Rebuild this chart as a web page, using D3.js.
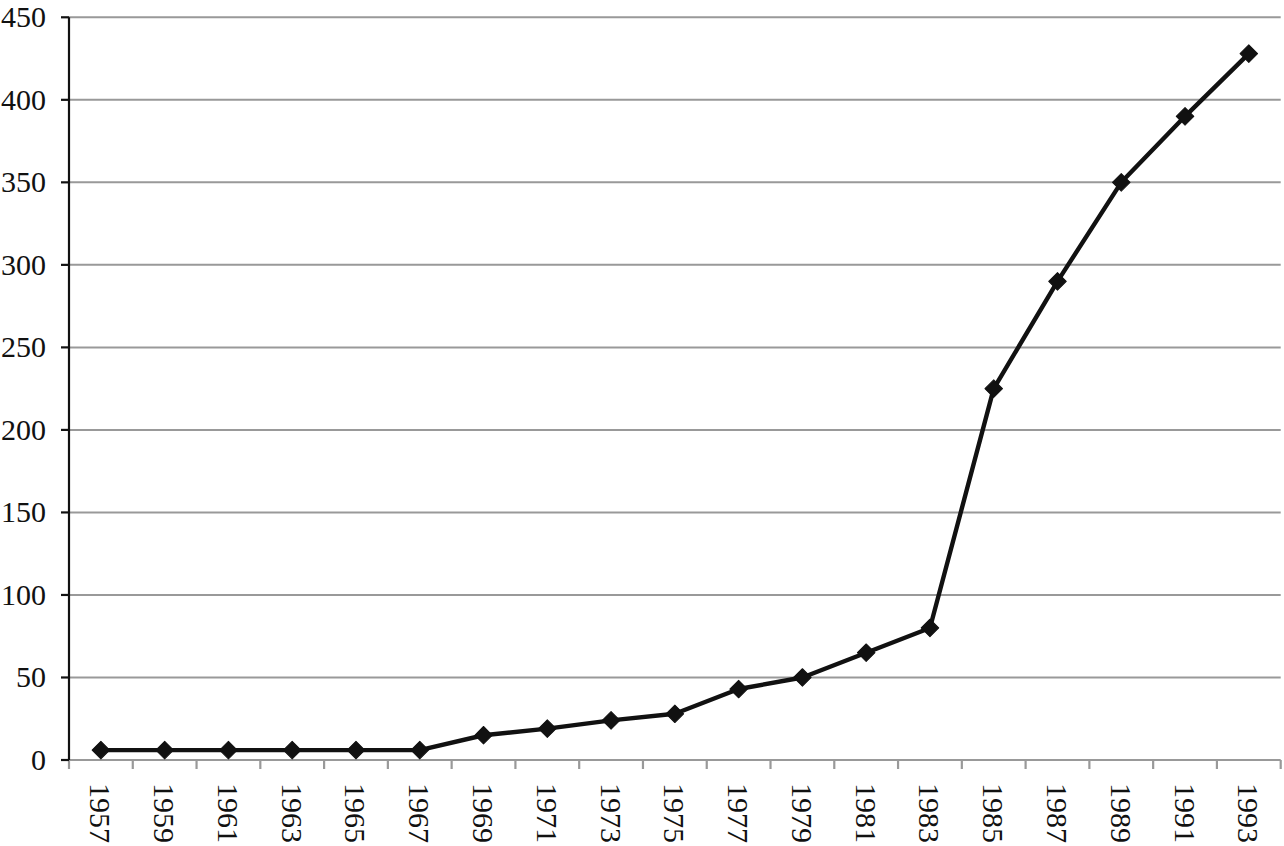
<!DOCTYPE html>
<html><head><meta charset="utf-8">
<script src="https://cdn.jsdelivr.net/npm/d3@7"></script>
<style>html,body{margin:0;padding:0;background:#fff;}</style>
</head><body>
<svg id="chart" width="1284" height="846"></svg>
<script>
const years = ["1957","1959","1961","1963","1965","1967","1969","1971","1973","1975","1977","1979","1981","1983","1985","1987","1989","1991","1993"];
const values = [6,6,6,6,6,6,15,19,24,28,43,50,65,80,225,290,350,390,428];
const yTicks = [0,50,100,150,200,250,300,350,400,450];

(function () {
const svg = d3.select("#chart");
const mLeft = 69, mRight = 1280.7, mTop = 17.3, mBottom = 760;
const x = d3.scaleBand().domain(years).range([mLeft, mRight]).padding(0);
const y = d3.scaleLinear().domain([0, 450]).range([mBottom, mTop]);
const font = "'Liberation Serif','Times New Roman',serif";

// gridlines
svg.append("g").selectAll("line").data(yTicks.filter(d => d > 0)).join("line")
  .attr("x1", mLeft).attr("x2", mRight)
  .attr("y1", d => y(d)).attr("y2", d => y(d))
  .attr("stroke", "#999").attr("stroke-width", 2);

// x axis
const xAxis = svg.append("g").attr("transform", `translate(0,${mBottom})`);
xAxis.append("line").attr("x1", mLeft).attr("x2", mRight).attr("stroke", "#999").attr("stroke-width", 2.2);
const xTickPos = years.map(d => x(d)).concat([mRight]);
xAxis.selectAll("line.t").data(xTickPos).join("line").attr("class","t")
  .attr("x1", d => d).attr("x2", d => d).attr("y1", 0).attr("y2", 9)
  .attr("stroke", "#999").attr("stroke-width", 2.2);
xAxis.selectAll("text").data(years).join("text")
  .attr("transform", d => `translate(${x(d) + x.bandwidth()/2},23) rotate(90)`)
  .attr("dy", "0.35em")
  .attr("text-anchor", "start")
  .attr("font-family", font).attr("font-size", 30).attr("fill", "#111")
  .text(d => d);

// y axis
const yAxis = svg.append("g").attr("transform", `translate(${mLeft},0)`);
yAxis.append("line").attr("y1", mTop).attr("y2", mBottom).attr("stroke", "#111").attr("stroke-width", 2.2);
yAxis.selectAll("line.t").data(yTicks).join("line").attr("class","t")
  .attr("x1", -8).attr("x2", 0).attr("y1", d => y(d)).attr("y2", d => y(d))
  .attr("stroke", "#111").attr("stroke-width", 2.2);
yAxis.selectAll("text").data(yTicks).join("text")
  .attr("x", -23).attr("y", d => y(d)).attr("dy", "0.33em")
  .attr("text-anchor", "end")
  .attr("font-family", font).attr("font-size", 30).attr("fill", "#111")
  .text(d => d);

// line
const pts = years.map((d, i) => [x(d) + x.bandwidth()/2, y(values[i])]);
svg.append("path").datum(pts)
  .attr("d", d3.line())
  .attr("fill", "none").attr("stroke", "#111").attr("stroke-width", 4.4).attr("stroke-linejoin", "round");

// markers
svg.append("g").selectAll("path").data(pts).join("path")
  .attr("transform", d => `translate(${d[0]},${d[1]}) rotate(45)`)
  .attr("d", "M-6.2,-6.2 L6.2,-6.2 L6.2,6.2 L-6.2,6.2 Z")
  .attr("fill", "#111").attr("stroke", "#111").attr("stroke-width", 1).attr("stroke-linejoin","round");
})();
</script>
</body></html>
